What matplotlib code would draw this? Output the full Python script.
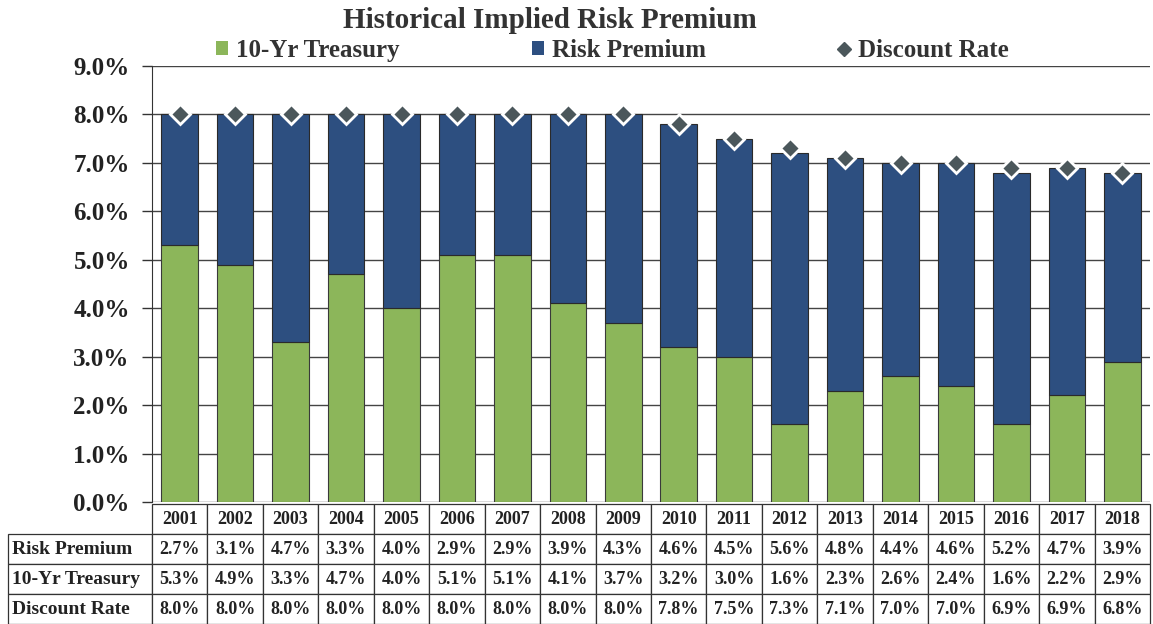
import numpy as np
import matplotlib
matplotlib.use("Agg")
import matplotlib.pyplot as plt
from matplotlib.lines import Line2D
from matplotlib.patches import Patch

years = ["2001", "2002", "2003", "2004", "2005", "2006", "2007", "2008", "2009",
         "2010", "2011", "2012", "2013", "2014", "2015", "2016", "2017", "2018"]
risk_premium = [2.7, 3.1, 4.7, 3.3, 4.0, 2.9, 2.9, 3.9, 4.3, 4.6, 4.5, 5.6, 4.8, 4.4, 4.6, 5.2, 4.7, 3.9]
treasury = [5.3, 4.9, 3.3, 4.7, 4.0, 5.1, 5.1, 4.1, 3.7, 3.2, 3.0, 1.6, 2.3, 2.6, 2.4, 1.6, 2.2, 2.9]
discount_rate = [8.0, 8.0, 8.0, 8.0, 8.0, 8.0, 8.0, 8.0, 8.0, 7.8, 7.5, 7.3, 7.1, 7.0, 7.0, 6.9, 6.9, 6.8]
row_labels = ["Risk Premium", "10-Yr Treasury", "Discount Rate"]
yticks = [0, 1, 2, 3, 4, 5, 6, 7, 8, 9]

GREEN = "#8cb65a"
NAVY = "#2d4f80"
DIAM = "#4b575b"
FONT = "Liberation Serif"

plt.rcParams["font.family"] = [FONT, "DejaVu Serif"]
plt.rcParams["font.weight"] = "bold"

W, H = 1153, 624
fig = plt.figure(figsize=(W / 100, H / 100), dpi=100)
left, right, bottom, top = 152, 1150, 502, 66
ax = fig.add_axes([left / W, 1 - bottom / H, (right - left) / W, (bottom - top) / H])

x = np.arange(len(years))
ax.bar(x, treasury, width=0.66, color=GREEN, edgecolor="#3a3a3a", linewidth=0.8, zorder=2)
ax.bar(x, risk_premium, bottom=treasury, width=0.66, color=NAVY, edgecolor="#2a2a2a",
       linewidth=0.8, zorder=2)
ax.plot(x, discount_rate, linestyle="none", marker="D", markersize=10, color=DIAM,
        markeredgecolor="white", markeredgewidth=2, zorder=4, clip_on=False)

ax.set_xlim(-0.5, len(years) - 0.5)
ax.set_ylim(0, 9)
ax.set_yticks(yticks)
ax.set_yticklabels([f"{v:.1f}%" for v in yticks], fontsize=18, fontweight="bold", color="#222")
ax.tick_params(axis="y", direction="out", length=7, width=1, color="#333", pad=9)
ax.set_xticks([])
ax.yaxis.grid(True, color="#444", linewidth=1)
ax.set_axisbelow(True)
for s in ["top", "right", "bottom"]:
    ax.spines[s].set_visible(False)
ax.spines["left"].set_color("#333")

# Data table
cell_text = [[""] + years]
cell_text.append([row_labels[0]] + [f"{v:.1f}%" for v in risk_premium])
cell_text.append([row_labels[1]] + [f"{v:.1f}%" for v in treasury])
cell_text.append([row_labels[2]] + [f"{v:.1f}%" for v in discount_rate])
tl = 8
col_w = [(left - tl)] + [(right - left) / len(years)] * len(years)
tot = sum(col_w)
tbl = ax.table(cellText=cell_text, colWidths=[c / tot for c in col_w], cellLoc="center",
               bbox=[(tl - left) / (right - left), -(H - bottom) / (bottom - top),
                     tot / (right - left), (H - bottom - 2) / (bottom - top)])
tbl.auto_set_font_size(False)
for (r, c), cell in tbl.get_celld().items():
    cell.set_edgecolor("#333")
    cell.set_linewidth(0.9)
    t = cell.get_text()
    t.set_fontsize(13)
    t.set_fontweight("bold")
    t.set_color("#222")
    if c == 0:
        t.set_ha("left")
        t.set_fontsize(14)
        cell.PAD = 0.025
        if r == 0:
            cell.visible_edges = ""

fig.text(0.477, 0.967, "Historical Implied Risk Premium", ha="center", va="center",
         fontsize=21, fontweight="bold", color="#333")

handles = [Patch(facecolor=GREEN, edgecolor="none"),
           Patch(facecolor=NAVY, edgecolor="none"),
           Line2D([], [], linestyle="none", marker="D", markersize=7, color=DIAM)]
fig.legend(handles, ["10-Yr Treasury", "Risk Premium", "Discount Rate"], ncol=3,
           loc="center", bbox_to_anchor=(0.531, 0.919), frameon=False,
           prop={"family": FONT, "weight": "bold", "size": 18},
           handlelength=0.5, handleheight=0.5, handletextpad=0.3, columnspacing=5.3,
           labelcolor="#333")

fig.savefig("out.png", dpi=100)
